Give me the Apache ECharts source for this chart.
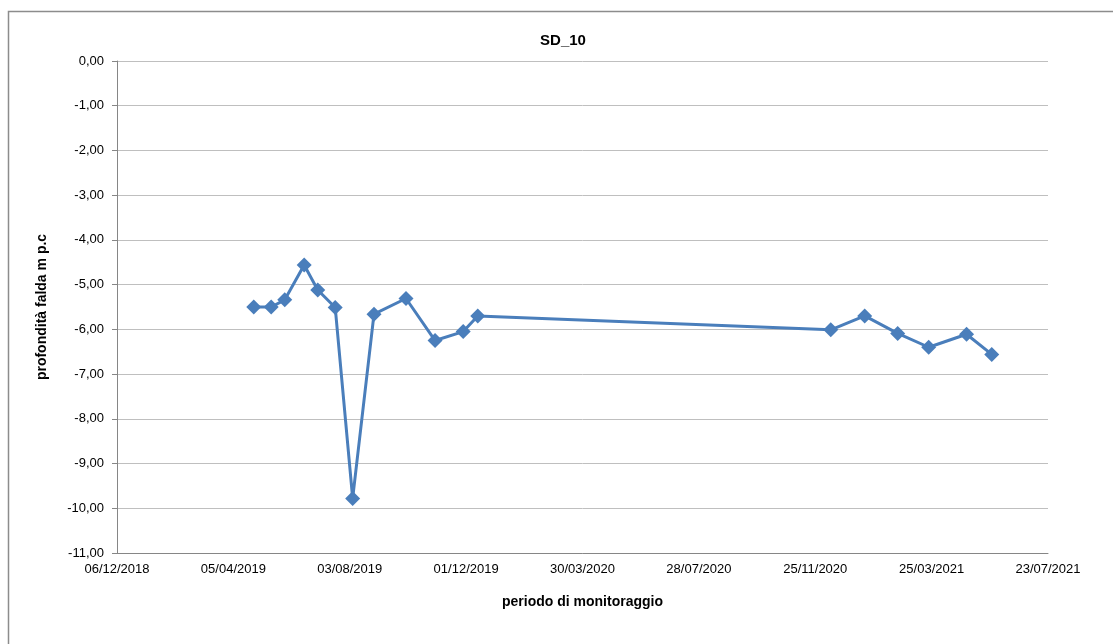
<!DOCTYPE html>
<html>
<head>
<meta charset="utf-8">
<script src="https://cdn.jsdelivr.net/npm/echarts@6/dist/echarts.min.js"></script>
<style>
html,body{margin:0;padding:0;background:#fff;}
#chart{width:1113px;height:644px;}
</style>
</head>
<body>
<div id="chart"></div>
<script>
// Data
const titleText = 'SD_10';
const xAxisName = 'periodo di monitoraggio';
const yAxisName = 'profondità falda m p.c';
const dates = ['2019-04-26','2019-05-14','2019-05-28','2019-06-17','2019-07-01','2019-07-19','2019-08-06','2019-08-28','2019-09-30','2019-10-30','2019-11-28','2019-12-13','2020-12-11','2021-01-15','2021-02-18','2021-03-22','2021-04-30','2021-05-26'];
const depths = [-5.50,-5.50,-5.34,-4.56,-5.12,-5.51,-9.78,-5.66,-5.31,-6.25,-6.05,-5.70,-6.01,-5.70,-6.09,-6.40,-6.11,-6.56];
const xMinDate = '2018-12-06';
const xMaxDate = '2021-07-23';
const xStepDays = 120;
const yMin = -11, yMax = 0, yStep = 1;

// Excel-style serial day numbers
function serial(s){ return Math.round(Date.parse(s + 'T00:00:00Z')/86400000) + 25569; }
function fmtSerial(v){
  const d = new Date((v - 25569)*86400000);
  const p = n => String(n).padStart(2,'0');
  return p(d.getUTCDate()) + '/' + p(d.getUTCMonth()+1) + '/' + d.getUTCFullYear();
}
const seriesData = dates.map((d,i)=>[serial(d), depths[i]]);

const chart = echarts.init(document.getElementById('chart'), null, {renderer:'canvas'});
const font = '"Liberation Sans", Arial, sans-serif';
chart.setOption({
  animation:false,
  backgroundColor:'#fff',
  title:{text:titleText,left:558,top:28,textAlign:'center',
    textStyle:{fontFamily:font,fontWeight:'bold',fontSize:15,color:'#000'}},
  graphic:[{type:'rect',shape:{x:8.5,y:11.5,width:1300,height:800},
    style:{fill:null,stroke:'#8c8c8c',lineWidth:1.5},silent:true}],
  grid:{left:117,right:65,top:61,bottom:91,containLabel:false},
  xAxis:{type:'value',min:serial(xMinDate),max:serial(xMaxDate),interval:xStepDays,
    name:xAxisName,nameLocation:'middle',nameGap:42,
    nameTextStyle:{fontFamily:font,fontWeight:'bold',fontSize:14,color:'#000'},
    axisLine:{show:true,onZero:false,lineStyle:{color:'#868686',width:1}},
    axisTick:{show:false},
    splitLine:{show:false},
    axisLabel:{margin:10,fontFamily:font,fontSize:13,color:'#000',formatter:v=>fmtSerial(v),
      showMinLabel:true,showMaxLabel:true}},
  yAxis:{type:'value',min:yMin,max:yMax,interval:yStep,
    name:yAxisName,nameLocation:'middle',nameGap:68,
    nameTextStyle:{fontFamily:font,fontWeight:'bold',fontSize:14,color:'#000'},
    axisLine:{show:true,lineStyle:{color:'#868686',width:1}},
    axisTick:{show:true,inside:false,length:5,lineStyle:{color:'#868686'}},
    splitLine:{show:true,lineStyle:{color:'#bfbfbf',width:1}},
    axisLabel:{margin:13,fontFamily:font,fontSize:13,color:'#000',
      formatter:v=>v.toFixed(2).replace('.',',')}},
  series:[{type:'line',data:seriesData,symbol:'diamond',symbolSize:15,
    lineStyle:{color:'#4a7ebb',width:3},
    itemStyle:{color:'#4a7ebb'},
    showAllSymbol:true}]
});
</script>
</body>
</html>
